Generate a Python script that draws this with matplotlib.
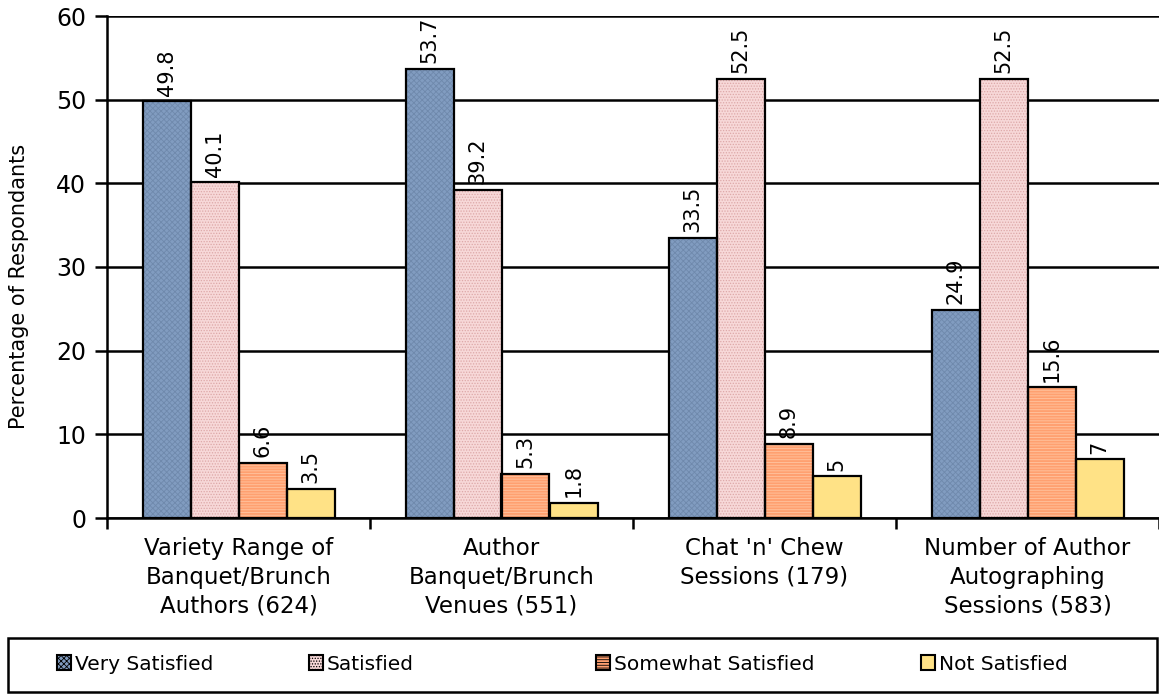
import matplotlib
matplotlib.use("Agg")
import matplotlib.pyplot as plt
import numpy as np
from matplotlib.patches import Patch, Rectangle

categories = ["Variety Range of\nBanquet/Brunch\nAuthors (624)",
              "Author\nBanquet/Brunch\nVenues (551)",
              "Chat 'n' Chew\nSessions (179)",
              "Number of Author\nAutographing\nSessions (583)"]
series_names = ["Very Satisfied", "Satisfied", "Somewhat Satisfied", "Not Satisfied"]
very_satisfied = [49.8, 53.7, 33.5, 24.9]
satisfied = [40.1, 39.2, 52.5, 52.5]
somewhat_satisfied = [6.6, 5.3, 8.9, 15.6]
not_satisfied = [3.5, 1.8, 5, 7]
value_labels = [["49.8", "53.7", "33.5", "24.9"],
                ["40.1", "39.2", "52.5", "52.5"],
                ["6.6", "5.3", "8.9", "15.6"],
                ["3.5", "1.8", "5", "7"]]
y_ticks = [0, 10, 20, 30, 40, 50, 60]

series = [very_satisfied, satisfied, somewhat_satisfied, not_satisfied]
face_colors = ["#819CC0", "#F7D8D8", "#FFA070", "#FFE286"]
hatch_colors = ["#6F89AC", "#DDA8A8", "#FFC4A0", "#FFE286"]
hatches = ["xxxxxx", "......", "------", None]

plt.rcParams["font.family"] = "DejaVu Sans"
plt.rcParams["hatch.linewidth"] = 0.6

fig = plt.figure(figsize=(11.59, 6.94), dpi=100)
ax = fig.add_axes([107/1159, 1-518/694, 1-107/1159, (518-16)/694])

n = len(categories)
x = np.arange(n)
bw = 48/263
offsets = (np.arange(4) - 1.5) * bw

for i, vals in enumerate(series):
    pos = x + offsets[i]
    ax.bar(pos, vals, width=bw, color=face_colors[i], edgecolor=hatch_colors[i],
           hatch=hatches[i], linewidth=0, zorder=3)
    ax.bar(pos, vals, width=bw, fill=False, edgecolor="black", linewidth=1.6, zorder=4)
    for p, v, lab in zip(pos, vals, value_labels[i]):
        ax.annotate(lab, (p, v), xytext=(0, 4), textcoords="offset points",
                    rotation=90, ha="center", va="bottom", fontsize=15, zorder=5)

ax.set_xlim(-0.5, n - 0.5)
ax.set_ylim(0, 60)
ax.set_yticks(y_ticks)
ax.set_yticklabels([str(t) for t in y_ticks], fontsize=17)
ax.yaxis.grid(True, color="black", linewidth=1.8, zorder=0)
ax.set_axisbelow(True)
ax.spines["top"].set_visible(False)
ax.spines["right"].set_visible(False)
ax.spines["left"].set_linewidth(1.8)
ax.spines["bottom"].set_linewidth(1.8)
ax.tick_params(axis="y", direction="out", length=9, width=1.8, pad=6)

ax.set_xticks(np.arange(n + 1) - 0.5)
ax.set_xticklabels([])
ax.tick_params(axis="x", direction="out", length=8, width=1.8)
ax.set_xticks(x, minor=True)
ax.set_xticklabels(categories, minor=True, fontsize=16.5, linespacing=1.3)
ax.tick_params(axis="x", which="minor", length=0, pad=14)

ax.set_ylabel("Percentage of Respondants", fontsize=15)
ax.yaxis.set_label_coords(-0.074, 0.462)

# legend box
fig.patches.append(Rectangle((8/1159, 1-692/694), (1157-8)/1159, (692-638)/694,
                             transform=fig.transFigure, fill=False,
                             edgecolor="black", linewidth=1.8))
leg_x = [57/1159, 309/1159, 596/1159, 921/1159]
for i, name in enumerate(series_names):
    h = Patch(facecolor=face_colors[i], edgecolor="black", linewidth=1.5,
              hatch=hatches[i])
    fig.legend(handles=[h], labels=[name], loc="center left",
               bbox_to_anchor=(leg_x[i], 1-664/694), frameon=False,
               fontsize=14.5, handlelength=0.7, handleheight=0.7,
               handletextpad=0.2, borderpad=0, borderaxespad=0)

fig.savefig("out.png", dpi=100)
